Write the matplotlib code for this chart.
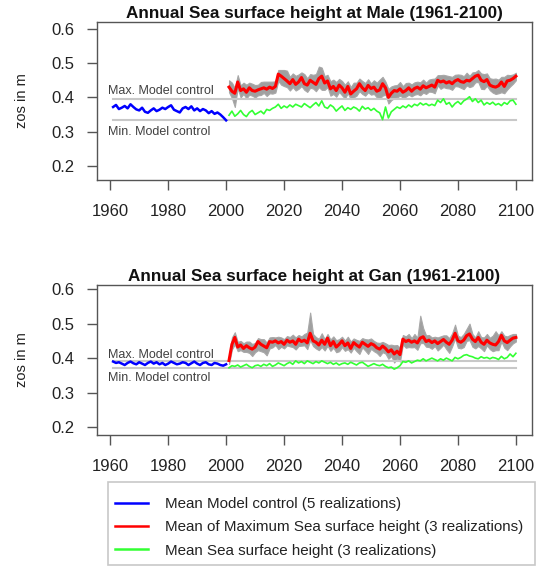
import numpy as np
import matplotlib
matplotlib.use("Agg")
import matplotlib.pyplot as plt
from matplotlib.lines import Line2D
from matplotlib.patches import Rectangle

plt.rcParams['font.family'] = ['Liberation Sans', 'DejaVu Sans']

# lata
lata_ctrl = np.arange(1961, 2001)
lata_scen = np.arange(2001, 2101)

# Male - model control (srednia z 5 realizacji)
ctrl_male = [0.372, 0.378, 0.366, 0.370, 0.375, 0.368, 0.380, 0.372, 0.365, 0.362,
             0.370, 0.358, 0.355, 0.362, 0.368, 0.360, 0.364, 0.370, 0.366, 0.372,
             0.377, 0.364, 0.360, 0.356, 0.368, 0.372, 0.366, 0.374, 0.362, 0.368,
             0.360, 0.366, 0.362, 0.354, 0.360, 0.352, 0.356, 0.350, 0.342, 0.333]
max_ctrl_male = 0.394
min_ctrl_male = 0.333

# Male - srednia z maksimow (3 realizacje)
maks_male = [0.430, 0.418, 0.412, 0.445, 0.420, 0.425, 0.415, 0.428, 0.420, 0.418,
             0.422, 0.425, 0.428, 0.424, 0.430, 0.426, 0.432, 0.468, 0.462, 0.455,
             0.448, 0.440, 0.452, 0.438, 0.445, 0.458, 0.440, 0.436, 0.450, 0.444,
             0.438, 0.455, 0.462, 0.442, 0.448, 0.425, 0.432, 0.420, 0.436, 0.428,
             0.415, 0.432, 0.410, 0.418, 0.425, 0.440, 0.428, 0.420, 0.435, 0.426,
             0.430, 0.418, 0.422, 0.440, 0.428, 0.400, 0.412, 0.420, 0.418, 0.425,
             0.415, 0.420, 0.428, 0.418, 0.426, 0.430, 0.424, 0.434, 0.428, 0.432,
             0.436, 0.430, 0.450, 0.445, 0.448, 0.442, 0.446, 0.440, 0.448, 0.452,
             0.446, 0.444, 0.450, 0.448, 0.455, 0.462, 0.465, 0.450, 0.446, 0.452,
             0.436, 0.432, 0.430, 0.434, 0.445, 0.432, 0.448, 0.450, 0.455, 0.462]

# rozrzut realizacji (szare pasmo) - w gore i w dol od sredniej
gora_male = [0.020, 0.025, 0.015, 0.020, 0.015, 0.018, 0.022, 0.015, 0.020, 0.018,
             0.015, 0.020, 0.018, 0.022, 0.016, 0.020, 0.015, 0.012, 0.018, 0.025,
             0.030, 0.020, 0.018, 0.025, 0.022, 0.015, 0.028, 0.020, 0.018, 0.022,
             0.030, 0.035, 0.025, 0.020, 0.018, 0.022, 0.020, 0.025, 0.018, 0.020,
             0.022, 0.015, 0.020, 0.025, 0.018, 0.015, 0.020, 0.022, 0.018, 0.015,
             0.020, 0.025, 0.030, 0.020, 0.018, 0.025, 0.020, 0.015, 0.018, 0.020,
             0.018, 0.022, 0.015, 0.020, 0.018, 0.016, 0.020, 0.018, 0.015, 0.020,
             0.018, 0.025, 0.015, 0.020, 0.018, 0.022, 0.016, 0.020, 0.018, 0.015,
             0.020, 0.018, 0.022, 0.015, 0.018, 0.012, 0.015, 0.020, 0.022, 0.018,
             0.020, 0.022, 0.025, 0.018, 0.015, 0.028, 0.018, 0.015, 0.012, 0.010]
dol_male = [0.015, 0.020, 0.040, 0.018, 0.020, 0.015, 0.018, 0.020, 0.015, 0.018,
            0.016, 0.018, 0.015, 0.020, 0.018, 0.015, 0.018, 0.020, 0.025, 0.022,
            0.018, 0.020, 0.022, 0.018, 0.020, 0.025, 0.018, 0.020, 0.022, 0.018,
            0.020, 0.025, 0.040, 0.020, 0.018, 0.020, 0.022, 0.018, 0.020, 0.022,
            0.018, 0.020, 0.015, 0.018, 0.020, 0.022, 0.018, 0.015, 0.020, 0.018,
            0.020, 0.018, 0.025, 0.035, 0.020, 0.018, 0.020, 0.022, 0.018, 0.020,
            0.015, 0.018, 0.020, 0.015, 0.018, 0.020, 0.018, 0.020, 0.018, 0.015,
            0.020, 0.018, 0.015, 0.020, 0.018, 0.015, 0.020, 0.018, 0.015, 0.020,
            0.018, 0.020, 0.015, 0.018, 0.022, 0.018, 0.020, 0.025, 0.022, 0.018,
            0.015, 0.018, 0.020, 0.022, 0.030, 0.020, 0.025, 0.018, 0.015, 0.012]

# Male - srednia wysokosc (3 realizacje)
sred_male = [0.348, 0.360, 0.345, 0.352, 0.362, 0.350, 0.344, 0.356, 0.362, 0.350,
             0.355, 0.360, 0.352, 0.365, 0.362, 0.368, 0.372, 0.380, 0.368, 0.375,
             0.370, 0.378, 0.372, 0.380, 0.376, 0.372, 0.382, 0.376, 0.370, 0.378,
             0.385, 0.375, 0.390, 0.372, 0.368, 0.378, 0.372, 0.360, 0.368, 0.375,
             0.362, 0.370, 0.365, 0.372, 0.368, 0.360, 0.374, 0.366, 0.370, 0.362,
             0.368, 0.360, 0.355, 0.335, 0.372, 0.340, 0.358, 0.365, 0.372, 0.368,
             0.375, 0.370, 0.378, 0.372, 0.380, 0.376, 0.384, 0.378, 0.382, 0.376,
             0.380, 0.376, 0.392, 0.385, 0.396, 0.380, 0.385, 0.372, 0.382, 0.388,
             0.380, 0.390, 0.395, 0.402, 0.388, 0.396, 0.385, 0.392, 0.378, 0.385,
             0.380, 0.386, 0.378, 0.382, 0.376, 0.385, 0.380, 0.390, 0.392, 0.380]

# Gan
ctrl_gan = [0.390, 0.386, 0.388, 0.384, 0.380, 0.386, 0.390, 0.385, 0.382, 0.388,
            0.384, 0.380, 0.386, 0.390, 0.384, 0.388, 0.382, 0.386, 0.380, 0.384,
            0.390, 0.386, 0.382, 0.384, 0.388, 0.386, 0.380, 0.385, 0.390, 0.384,
            0.380, 0.386, 0.388, 0.382, 0.380, 0.386, 0.384, 0.380, 0.378, 0.382]
max_ctrl_gan = 0.392
min_ctrl_gan = 0.372

maks_gan = [0.393, 0.440, 0.460, 0.432, 0.438, 0.428, 0.436, 0.430, 0.426, 0.432,
            0.448, 0.440, 0.435, 0.430, 0.448, 0.446, 0.450, 0.444, 0.448, 0.440,
            0.452, 0.446, 0.450, 0.440, 0.455, 0.448, 0.452, 0.444, 0.472, 0.450,
            0.446, 0.438, 0.452, 0.440, 0.458, 0.436, 0.448, 0.432, 0.440, 0.450,
            0.436, 0.444, 0.428, 0.445, 0.438, 0.432, 0.446, 0.440, 0.434, 0.442,
            0.438, 0.430, 0.426, 0.435, 0.428, 0.418, 0.424, 0.412, 0.420, 0.410,
            0.455, 0.448, 0.452, 0.446, 0.450, 0.444, 0.458, 0.462, 0.448, 0.452,
            0.445, 0.450, 0.442, 0.448, 0.454, 0.446, 0.440, 0.452, 0.472, 0.450,
            0.446, 0.452, 0.465, 0.470, 0.455, 0.448, 0.460, 0.446, 0.440, 0.452,
            0.444, 0.440, 0.438, 0.448, 0.466, 0.450, 0.445, 0.452, 0.458, 0.460]

gora_gan = [0.010, 0.020, 0.015, 0.015, 0.012, 0.015, 0.012, 0.018, 0.015, 0.012,
            0.010, 0.015, 0.020, 0.015, 0.012, 0.015, 0.010, 0.018, 0.012, 0.015,
            0.012, 0.015, 0.018, 0.020, 0.012, 0.015, 0.018, 0.030, 0.060, 0.020,
            0.015, 0.018, 0.020, 0.015, 0.012, 0.018, 0.015, 0.020, 0.015, 0.012,
            0.015, 0.018, 0.020, 0.012, 0.015, 0.018, 0.012, 0.015, 0.020, 0.015,
            0.012, 0.015, 0.018, 0.012, 0.015, 0.020, 0.015, 0.025, 0.018, 0.020,
            0.012, 0.015, 0.018, 0.012, 0.020, 0.015, 0.065, 0.025, 0.018, 0.015,
            0.015, 0.012, 0.018, 0.015, 0.012, 0.020, 0.018, 0.020, 0.025, 0.015,
            0.015, 0.018, 0.020, 0.030, 0.015, 0.012, 0.018, 0.015, 0.020, 0.018,
            0.015, 0.025, 0.040, 0.018, 0.012, 0.015, 0.018, 0.015, 0.012, 0.010]
dol_gan = [0.010, 0.015, 0.020, 0.012, 0.015, 0.010, 0.018, 0.015, 0.020, 0.015,
           0.025, 0.020, 0.018, 0.022, 0.020, 0.015, 0.012, 0.018, 0.015, 0.012,
           0.015, 0.012, 0.018, 0.015, 0.020, 0.012, 0.015, 0.018, 0.020, 0.015,
           0.018, 0.015, 0.020, 0.018, 0.022, 0.015, 0.018, 0.015, 0.020, 0.018,
           0.015, 0.018, 0.012, 0.015, 0.018, 0.020, 0.015, 0.018, 0.022, 0.015,
           0.018, 0.015, 0.020, 0.018, 0.015, 0.020, 0.018, 0.025, 0.020, 0.020,
           0.015, 0.018, 0.020, 0.015, 0.018, 0.020, 0.015, 0.018, 0.015, 0.020,
           0.018, 0.015, 0.020, 0.018, 0.015, 0.020, 0.025, 0.018, 0.015, 0.020,
           0.018, 0.020, 0.015, 0.018, 0.022, 0.020, 0.025, 0.018, 0.020, 0.015,
           0.018, 0.020, 0.015, 0.025, 0.018, 0.020, 0.022, 0.018, 0.015, 0.012]

sred_gan = [0.372, 0.378, 0.376, 0.380, 0.374, 0.378, 0.382, 0.376, 0.372, 0.378,
            0.380, 0.376, 0.382, 0.378, 0.384, 0.376, 0.380, 0.386, 0.382, 0.378,
            0.384, 0.388, 0.382, 0.392, 0.386, 0.390, 0.384, 0.392, 0.388, 0.384,
            0.390, 0.386, 0.392, 0.388, 0.384, 0.388, 0.382, 0.386, 0.380, 0.384,
            0.386, 0.382, 0.388, 0.384, 0.380, 0.386, 0.388, 0.382, 0.376, 0.380,
            0.384, 0.380, 0.378, 0.382, 0.376, 0.372, 0.374, 0.368, 0.372, 0.378,
            0.390, 0.388, 0.392, 0.386, 0.390, 0.394, 0.392, 0.398, 0.392, 0.396,
            0.400, 0.396, 0.392, 0.398, 0.394, 0.400, 0.396, 0.392, 0.402, 0.398,
            0.402, 0.408, 0.410, 0.406, 0.404, 0.400, 0.398, 0.404, 0.400, 0.402,
            0.398, 0.402, 0.400, 0.396, 0.405, 0.398, 0.402, 0.412, 0.404, 0.414]

etykiety_legendy = ["Mean Model control (5 realizations)",
                    "Mean of Maximum Sea surface height (3 realizations)",
                    "Mean Sea surface height (3 realizations)"]

W, H = 542, 568
fig = plt.figure(figsize=(W / 100, H / 100), dpi=100)


def panel(top_px, bottom_px, ylim, tytul, ctrl, maks, gora, dol, sred, max_c, min_c,
          y_max_txt, y_min_txt):
    ax = fig.add_axes([97 / W, 1 - bottom_px / H, (532 - 97) / W, (bottom_px - top_px) / H])
    maks = np.array(maks)
    ax.fill_between(lata_scen, maks - np.array(dol), maks + np.array(gora),
                    color='#a0a0a0', lw=0.8, edgecolor='#a8a8a8')
    ax.plot([1961, 2100], [max_c, max_c], color='#c8c8c8', lw=1.5)
    ax.plot([1961, 2100], [min_c, min_c], color='#c8c8c8', lw=1.5)
    ax.plot(lata_ctrl, ctrl, color='#0000ff', lw=1.8)
    ax.plot(lata_scen, sred, color='#33ff33', lw=1.2)
    ax.plot(lata_scen, maks, color='#ff0000', lw=2.2)
    ax.text(1959.3, y_max_txt, "Max. Model control", fontsize=9, color='#404040',
            va='center', ha='left')
    ax.text(1959.3, y_min_txt, "Min. Model control", fontsize=9, color='#404040',
            va='center', ha='left')
    ax.set_xlim(1955.44, 2105.56)
    ax.set_ylim(*ylim)
    ax.set_xticks(range(1960, 2101, 20))
    ax.set_yticks([0.2, 0.3, 0.4, 0.5, 0.6])
    ax.set_yticklabels(["0.2", "0.3", "0.4", "0.5", "0.6"])
    ax.tick_params(length=7.5, width=1, color='#555555', labelsize=12,
                   labelcolor='#222222')
    ax.tick_params(axis='x', pad=10)
    ax.tick_params(axis='y', pad=9)
    for s in ax.spines.values():
        s.set_color('#555555')
        s.set_linewidth(1)
    ax.set_title(tytul, fontsize=12.3, fontweight='bold', pad=3, color='#111111')
    ax.set_ylabel("zos in m", fontsize=10.5, color='#222222')
    ax.yaxis.set_label_coords((29 - 97) / 435, 0.5)
    return ax


panel(22, 180, (0.159, 0.620), "Annual Sea surface height at Male (1961-2100)",
      ctrl_male, maks_male, gora_male, dol_male, sred_male,
      max_ctrl_male, min_ctrl_male, 0.420, 0.300)
panel(285, 435, (0.177, 0.612), "Annual Sea surface height at Gan (1961-2100)",
      ctrl_gan, maks_gan, gora_gan, dol_gan, sred_gan,
      max_ctrl_gan, min_ctrl_gan, 0.408, 0.343)

# legenda: ramka osobno, wpisy bez ramki
fig.patches.append(Rectangle((108 / W, 1 - 565 / H), (535 - 108) / W, (565 - 482) / H,
                             transform=fig.transFigure, fill=False,
                             edgecolor='#c8c8c8', lw=1.2))
uchwyty = [Line2D([], [], color='#0000ff', lw=1.8),
           Line2D([], [], color='#ff0000', lw=1.8),
           Line2D([], [], color='#33ff33', lw=1.8)]
leg = fig.legend(uchwyty, etykiety_legendy, loc='upper left',
                 bbox_to_anchor=(115 / W, 1 - 497 / H), borderaxespad=0,
                 fontsize=10.9, handlelength=2.2, handletextpad=1.1,
                 labelspacing=0.62, borderpad=0, frameon=False)
for t in leg.get_texts():
    t.set_color('#222222')

fig.savefig("out.png", dpi=100)
